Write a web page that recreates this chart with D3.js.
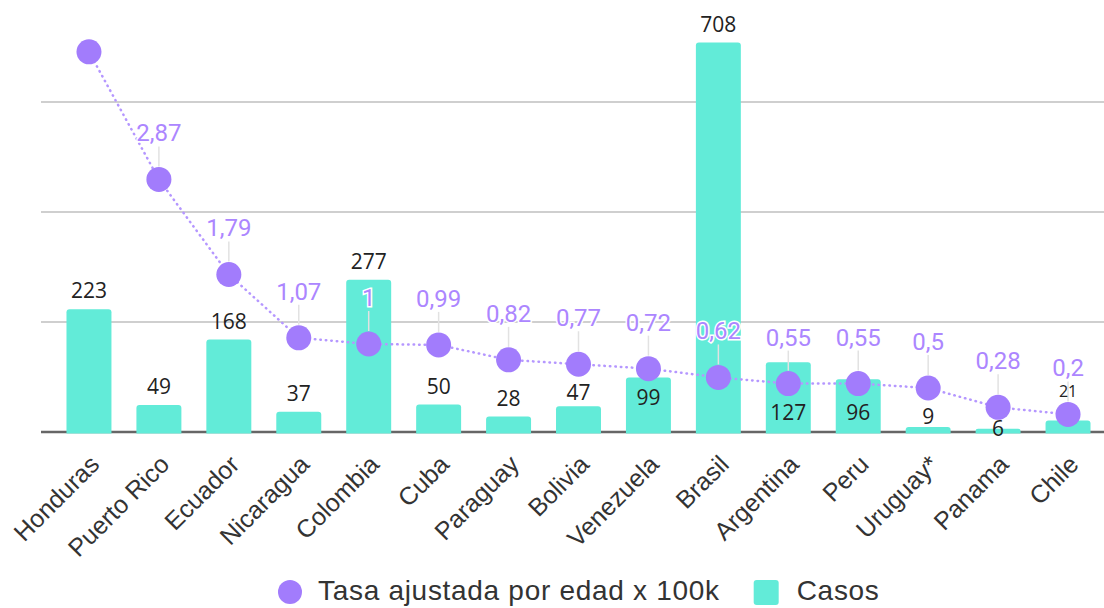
<!DOCTYPE html>
<html>
<head>
<meta charset="utf-8">
<script src="https://cdn.jsdelivr.net/npm/d3@7"></script>
<style>
  body { margin: 0; background: #fff; }
  svg { display: block; }
  .xlab { font-family: "Liberation Sans", Arial, sans-serif; font-size: 25px; fill: #333; }
  .barlab { font-family: "Open Sans", sans-serif; font-size: 21px; fill: #222; }
  .ptlab { font-family: Roboto, sans-serif; font-size: 24px; fill: #ac86ff; stroke: #fff; stroke-width: 3px; paint-order: stroke; }
  .leg { font-family: "Liberation Sans", Arial, sans-serif; font-size: 28px; letter-spacing: 0.7px; fill: #333; }
</style>
</head>
<body>
<svg id="chart" width="1104" height="608"></svg>
<script>
// data
var countries = ["Honduras", "Puerto Rico", "Ecuador", "Nicaragua", "Colombia", "Cuba", "Paraguay",
  "Bolivia", "Venezuela", "Brasil", "Argentina", "Peru", "Uruguay*", "Panama", "Chile"];
var casos = [223, 49, 168, 37, 277, 50, 28, 47, 99, 708, 127, 96, 9, 6, 21];
var tasa = [4.32, 2.87, 1.79, 1.07, 1, 0.99, 0.82, 0.77, 0.72, 0.62, 0.55, 0.55, 0.5, 0.28, 0.2];
var barTicks = [200, 400, 600];
var legendNames = ["Tasa ajustada por edad x 100k", "Casos"];

const purple = "#a27cfc";
const teal = "#62ebd8";

var svg = d3.select("#chart");

var data = countries.map(function(c, i) {
  return { name: c, casos: casos[i], tasa: tasa[i] };
});

// scales
var x = d3.scaleBand()
  .domain(countries)
  .range([54, 1103])
  .paddingInner(0.357)
  .paddingOuter(0.1785);

var yBar = d3.scaleLinear().domain([0, 800]).range([432, -8]);
var yRate = d3.scaleLinear().domain([0, 5]).range([432, -8]);

var cx = function(d) { return x(d.name) + x.bandwidth() / 2; };

// gridlines
svg.append("g")
  .selectAll("line")
  .data(barTicks)
  .enter()
  .append("line")
  .attr("x1", 41).attr("x2", 1104)
  .attr("y1", function(d) { return yBar(d); })
  .attr("y2", function(d) { return yBar(d); })
  .attr("stroke", "#cfcfcf")
  .attr("stroke-width", 2);

// baseline
svg.append("line")
  .attr("x1", 41).attr("x2", 1104)
  .attr("y1", yBar(0)).attr("y2", yBar(0))
  .attr("stroke", "#666")
  .attr("stroke-width", 2.5);

// bars with rounded tops
function barPath(d) {
  var x0 = x(d.name), w = x.bandwidth(), y0 = yBar(d.casos), b = yBar(0) + 1.5;
  var r = Math.min(3, (b - y0) / 2);
  return "M" + x0 + "," + b + "V" + (y0 + r) + "Q" + x0 + "," + y0 + " " + (x0 + r) + "," + y0 +
    "H" + (x0 + w - r) + "Q" + (x0 + w) + "," + y0 + " " + (x0 + w) + "," + (y0 + r) + "V" + b + "Z";
}
svg.append("g")
  .selectAll("path")
  .data(data)
  .enter()
  .append("path")
  .attr("d", barPath)
  .attr("fill", teal);

// dotted line
var line = d3.line()
  .x(cx)
  .y(function(d) { return yRate(d.tasa); });
svg.append("path")
  .datum(data)
  .attr("d", line)
  .attr("fill", "none")
  .attr("stroke", "#b597ff")
  .attr("stroke-width", 2.5)
  .attr("stroke-linecap", "round")
  .attr("stroke-dasharray", "0.5 5");

// leader lines
var shown = data.filter(function(d) { return yRate(d.tasa) - 46 > 15; });
svg.append("g")
  .selectAll("line")
  .data(shown)
  .enter()
  .append("line")
  .attr("x1", cx).attr("x2", cx)
  .attr("y1", function(d) { return yRate(d.tasa) - 13; })
  .attr("y2", function(d) { return yRate(d.tasa) - 33; })
  .attr("stroke", "#e2e2e2")
  .attr("stroke-width", 1.5);

// points
svg.append("g")
  .selectAll("circle")
  .data(data)
  .enter()
  .append("circle")
  .attr("cx", cx)
  .attr("cy", function(d) { return yRate(d.tasa); })
  .attr("r", 12.5)
  .attr("fill", purple);

// bar labels, moved out of the way of points and their labels
function barLabelPos(d) {
  var py = yRate(d.tasa), ly = yBar(d.casos) - 19;
  var hitLab = function(y) { return Math.abs(y - (py - 46)) < 18; };
  if (!(Math.abs(ly - py) < 26 || hitLab(ly))) return { y: ly, small: false };
  ly = Math.min(py + 28, yBar(0) - 4);
  if (!(Math.abs(ly - py) < 18)) return { y: ly, small: false };
  return { y: py - 23, small: true };
}
svg.append("g")
  .selectAll("text")
  .data(data)
  .enter()
  .append("text")
  .attr("class", "barlab")
  .attr("x", cx)
  .attr("y", function(d) { return barLabelPos(d).y; })
  .style("font-size", function(d) { return barLabelPos(d).small ? "16px" : null; })
  .attr("text-anchor", "middle")
  .attr("dominant-baseline", "central")
  .text(function(d) { return d.casos; });

// point labels
svg.append("g")
  .selectAll("text")
  .data(shown)
  .enter()
  .append("text")
  .attr("class", "ptlab")
  .attr("x", cx)
  .attr("y", function(d) { return yRate(d.tasa) - 46; })
  .attr("text-anchor", "middle")
  .attr("dominant-baseline", "central")
  .text(function(d) { return String(d.tasa).replace(".", ","); });

// x labels
svg.append("g")
  .selectAll("text")
  .data(countries)
  .enter()
  .append("text")
  .attr("class", "xlab")
  .attr("text-anchor", "end")
  .attr("transform", function(d) {
    return "translate(" + (x(d) + x.bandwidth() / 2 + 12) + ",466) rotate(-45)";
  })
  .text(function(d) { return d; });

// legend
var leg = svg.append("g");
leg.append("circle").attr("cx", 290).attr("cy", 592).attr("r", 12).attr("fill", purple);
var t1 = leg.append("text").attr("class", "leg").attr("x", 318).attr("y", 600).text(legendNames[0]);
var x2 = 318 + t1.node().getComputedTextLength() + 34;
leg.append("rect").attr("x", x2).attr("y", 580).attr("width", 25).attr("height", 25)
  .attr("rx", 3).attr("fill", teal);
leg.append("text").attr("class", "leg").attr("x", x2 + 43).attr("y", 600).text(legendNames[1]);
</script>
</body>
</html>
